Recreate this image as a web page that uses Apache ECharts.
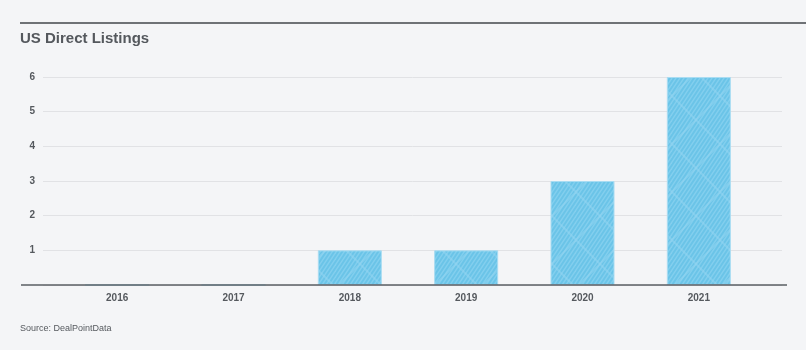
<!DOCTYPE html>
<html>
<head>
<meta charset="utf-8">
<script src="https://cdn.jsdelivr.net/npm/echarts@6/dist/echarts.min.js"></script>
<style>
  html, body { margin: 0; padding: 0; background: #f4f5f7; }
  #chart { width: 806px; height: 350px; }
</style>
</head>
<body>
<div id="chart"></div>
<script>
// Number of US direct listings per year
const years = ['2016', '2017', '2018', '2019', '2020', '2021'];
const listings = [0, 0, 1, 1, 3, 6];
const yTicks = [0, 1, 2, 3, 4, 5, 6];

const titleText = 'US Direct Listings';
const sourceText = 'Source: DealPointData';

// Hatched fill: fine diagonal stripes with a faint wider lattice on top
function makeHatch() {
  const s = 48;
  const c = document.createElement('canvas');
  c.width = s; c.height = s;
  const g = c.getContext('2d');
  g.fillStyle = '#6bc4e8';
  g.fillRect(0, 0, s, s);
  g.strokeStyle = '#84cfee';
  g.lineWidth = 1.4;
  for (let k = -s; k <= 2 * s; k += 4) {
    g.beginPath();
    g.moveTo(k - s, s + s);
    g.lineTo(k + s, 0 - s);
    g.stroke();
  }
  g.strokeStyle = 'rgba(150,214,241,0.5)';
  g.lineWidth = 2;
  [[0, s, s, 0], [0, 0, s, s], [-s, s, s, -s], [0, 2 * s, 2 * s, 0]].forEach(function (l) {
    g.beginPath(); g.moveTo(l[0], l[1]); g.lineTo(l[2], l[3]); g.stroke();
  });
  return c;
}

const chart = echarts.init(document.getElementById('chart'), null, { renderer: 'canvas' });
const labelFont = { fontFamily: 'Liberation Sans, Arial, sans-serif', fontWeight: 'bold', fontSize: 10, color: '#55595e' };

chart.setOption({
  backgroundColor: '#f4f5f7',
  animation: false,
  title: {
    text: titleText,
    left: 15, top: 26,
    textStyle: { fontFamily: 'Liberation Sans, Arial, sans-serif', fontWeight: 'bold', fontSize: 15, color: '#54585d' }
  },
  graphic: [
    { type: 'line', shape: { x1: 20, y1: 23, x2: 806, y2: 23 }, style: { stroke: '#6f7276', lineWidth: 2 } },
    { type: 'line', shape: { x1: 21, y1: 285, x2: 787, y2: 285 }, style: { stroke: '#5a5e63', lineWidth: 1.5 }, z: 10 },
    { type: 'text', left: 20, top: 324, style: { text: sourceText, font: '9px Liberation Sans, Arial, sans-serif', fill: '#55595e' } }
  ],
  grid: [
    { left: 43, right: 24, top: 77, bottom: 65 },
    { left: 59, right: 49, top: 77, bottom: 65 }
  ],
  xAxis: [
    { gridIndex: 0, type: 'value', show: false, min: 0, max: 1 },
    {
      gridIndex: 1, type: 'category', data: years,
      axisLine: { show: false }, axisTick: { show: false },
      axisLabel: Object.assign({ margin: 8 }, labelFont)
    }
  ],
  yAxis: [
    {
      gridIndex: 0, type: 'value', min: yTicks[0], max: yTicks[yTicks.length - 1], interval: 1,
      axisLine: { show: false }, axisTick: { show: false },
      axisLabel: Object.assign({ margin: 8, formatter: function (v) { return v === 0 ? '' : v; } }, labelFont),
      splitLine: { show: true, lineStyle: { color: '#e1e2e5', width: 1 } }
    },
    {
      gridIndex: 1, type: 'value', min: yTicks[0], max: yTicks[yTicks.length - 1], interval: 1,
      show: false, splitLine: { show: false }
    }
  ],
  series: [{
    type: 'bar',
    xAxisIndex: 1, yAxisIndex: 1,
    data: listings,
    barWidth: 64,
    itemStyle: {
      color: { image: makeHatch(), repeat: 'repeat' },
      borderColor: '#a9dcf2',
      borderWidth: 1
    }
  }]
});
</script>
</body>
</html>
